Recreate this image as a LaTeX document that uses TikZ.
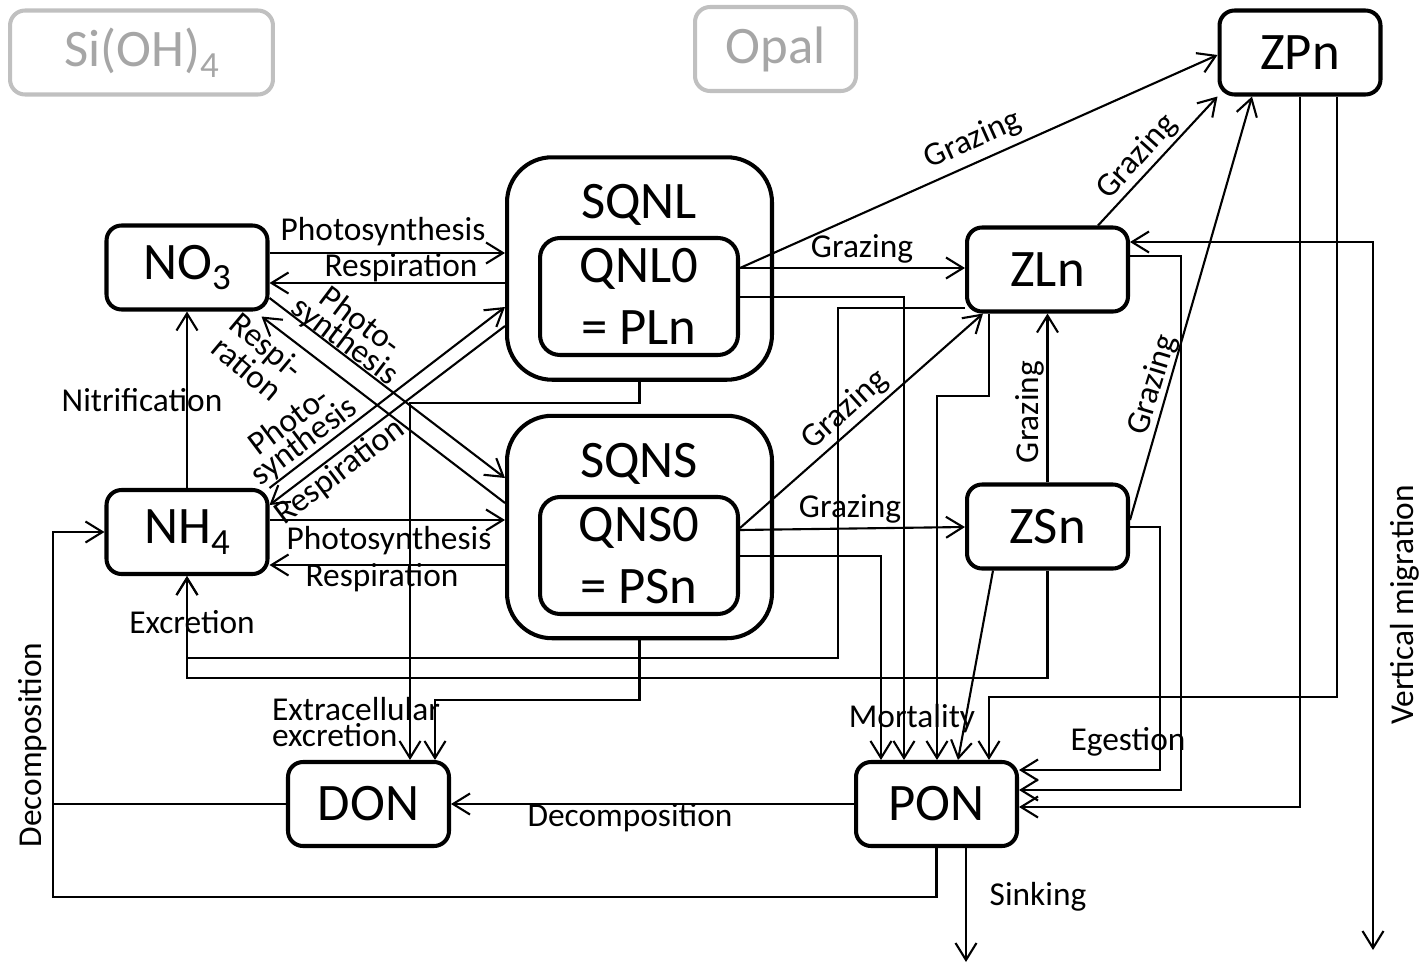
\documentclass[tikz,border=0pt]{standalone}
\usepackage{fontspec}
\setmainfont{Carlito}
\usetikzlibrary{arrows.meta,calc}
\definecolor{siframe}{RGB}{192,192,192}
\definecolor{sitext}{RGB}{166,166,166}
\newcommand{\boxfont}{\fontsize{30}{35}\selectfont}
\newcommand{\lblfont}{\fontsize{19}{14}\selectfont}
\newcommand{\subs}[1]{\raisebox{-6pt}{\fontsize{21}{21}\selectfont #1}}

\begin{document}
\begin{tikzpicture}[x=0.02cm,y=-0.02cm,>={Straight Barb[length=0.34cm,width=0.42cm]},
    box/.style={draw,line width=2.3pt,rounded corners=0.3cm,minimum width=3.22cm,minimum height=1.68cm,inner sep=0pt,font=\boxfont},
    grbox/.style={box,draw=siframe,text=sitext},
    bigbox/.style={draw,line width=2.3pt,rounded corners=0.9cm,minimum width=5.3cm,minimum height=4.45cm,inner sep=0pt},
    inbox/.style={box,align=center,rounded corners=0.4cm,minimum width=3.96cm,minimum height=2.34cm},
    ln/.style={line width=1.2pt},
    arr/.style={ln,->},
    lbl/.style={font=\lblfont,inner sep=1pt,align=center}]
    \useasboundingbox (0,0) rectangle (1421,967);
    % Pools
    \node[grbox,minimum width=5.26cm] (sioh) at (141.5,52.5) {Si(OH)\subs{4}};
    \node[grbox] (opal) at (775.5,49) {Opal};
    \node[box] (zpn) at (1300,52.5) {ZPn};
    \node[box] (no3) at (187,267.5) {NO\subs{3}};
    \node[box] (nh4) at (187,532) {NH\subs{4}};
    \node[bigbox] (sqnl) at (639.5,268.5) {};
    \node[inbox] (qnl) at (639,296.5) {QNL0\\= PLn};
    \node[font=\boxfont] (sqnlt) at (639,205) {SQNL};
    \node[bigbox] (sqns) at (639.5,527) {};
    \node[inbox] (qns) at (639,555.5) {QNS0\\= PSn};
    \node[font=\boxfont] (sqnst) at (639,464) {SQNS};
    \node[box] (zln) at (1047.5,269.5) {ZLn};
    \node[box] (zsn) at (1047.5,526.5) {ZSn};
    \node[box] (don) at (368.5,804) {DON};
    \node[box] (pon) at (936.5,804) {PON};
    \coordinate (dcorner) at (53,897);
    \coordinate (sinkend) at (966,962);
    \coordinate (vmbot) at (1373,950);
    % Nutrients <-> phytoplankton
    \draw[arr] (no3.east |- 0,253) -- (sqnl.west |- 0,253);
    \draw[arr] (sqnl.west |- 0,283) -- (no3.east |- 0,283);
    \draw[arr] (nh4.east |- 0,520) -- (sqns.west |- 0,520);
    \draw[arr] (sqns.west |- 0,565) -- (nh4.east |- 0,565);
    \draw[arr] (no3.east |- 0,298) -- (sqns.west |- 0,478);
    \draw[arr] (sqns.west |- 0,503) -- ($(no3.south east)+(-8,5)$);
    \draw[arr] (nh4.north east) -- (sqnl.west |- 0,307);
    \draw[arr] (sqnl.west |- 0,326) -- (nh4.east |- 0,505);
    \draw[arr] (nh4) -- (no3);
    \node[lbl] (lph1) at (383,232) {Photosynthesis};
    \node[lbl] (lre1) at (401,268) {Respiration};
    \node[lbl] (lph2) at (389,541) {Photosynthesis};
    \node[lbl] (lre2) at (382,578) {Respiration};
    \node[lbl,rotate=-37] (lph3) at (352,332) {Photo-\\synthesis};
    \node[lbl,rotate=-40] (lre3) at (257,357) {Respi-\\ration};
    \node[lbl,rotate=37] (lph4) at (297,432) {Photo-\\synthesis};
    \node[lbl,rotate=37] (lre4) at (340,472) {Respiration};
    \node[lbl] (lnit) at (142,400) {Nitrification};
    % Grazing
    \draw[arr] (qnl.east |- 0,268) -- (zln.west |- 0,268);
    \draw[arr] (qnl.east |- 0,268) -- (zpn.west |- 0,55);
    \draw[arr] (zln.north -| 1098,0) -- (zpn.south west);
    \draw[arr] (zsn.east |- 0,520) -- (zpn.south -| 1252,0);
    \draw[arr] (qns.east |- 0,528) -- (zln.south -| 983,0);
    \draw[arr] (qns.east |- 0,530) -- (zsn.west |- 0,527);
    \draw[arr] (zsn) -- (zln);
    \node[lbl] (lgr1) at (862,249) {Grazing};
    \node[lbl,rotate=24] (lgr2) at (973,140) {Grazing};
    \node[lbl,rotate=48] (lgr3) at (1137,157) {Grazing};
    \node[lbl,rotate=73] (lgr4) at (1153,385) {Grazing};
    \node[lbl,rotate=42] (lgr5) at (845,410) {Grazing};
    \node[lbl] (lgr6) at (850,509) {Grazing};
    \node[lbl,rotate=90] (lgr7) at (1030,412) {Grazing};
    % Vertical migration
    \draw[ln,<->] (zln.east |- 0,242) -| (vmbot);
    \node[lbl,rotate=90] (lvm) at (1405,605) {Vertical migration};
    % Egestion
    \draw[arr] (zln.east |- 0,256) -| (1181,790) -- (pon.east |- 0,790);
    \draw[arr] (zsn.east |- 0,527) -| (1160,770) -- (pon.east |- 0,770);
    \draw[arr] (zpn.south -| 1300,0) |- (pon.east |- 0,807);
    \draw[arr] (zpn.south -| 1337,0) |- (989,697) -- (pon.north -| 989,0);
    \node[lbl] (leg) at (1128,742) {Egestion};
    % Mortality
    \draw[arr] (qns.east |- 0,556) -| (pon.north -| 881,0);
    \draw[arr] (qnl.east |- 0,297) -| (pon.north -| 904,0);
    \draw[arr] (zln.south -| 989,0) |- (937,396) -- (pon.north -| 937,0);
    \draw[arr] (zsn.south -| 993,0) -- (pon.north -| 958,0);
    \node[lbl] (lmo) at (912,719) {Mortality};
    % Excretion
    \draw[arr] (zln.west |- 0,308) -| (838,658) -| (nh4.south);
    \draw[arr] (zsn.south) |- (nh4.south |- 0,678) -- (nh4.south);
    \node[lbl] (lex) at (192,622) {Excretion};
    \draw[arr] (sqnl.south) |- (410,403) -- (don.north -| 410,0);
    \draw[arr] (sqns.south) |- (435,700) -- (don.north -| 435,0);
    \node[lbl,align=left,anchor=west,font=\fontsize{19}{13}\selectfont] (lec) at (270,722) {Extracellular\\excretion};
    % Decomposition and sinking
    \draw[arr] (pon) -- (don);
    \draw[ln] (don.west) -- (don.west -| dcorner);
    \draw[arr] (pon.south) |- (dcorner) |- (nh4.west);
    \node[lbl] (lde1) at (630,818) {Decomposition};
    \node[lbl,rotate=90] (lde2) at (33,745) {Decomposition};
    \draw[arr] (pon.south -| sinkend) -- (sinkend);
    \node[lbl] (lsi) at (1038,897) {Sinking};
\end{tikzpicture}
\end{document}
